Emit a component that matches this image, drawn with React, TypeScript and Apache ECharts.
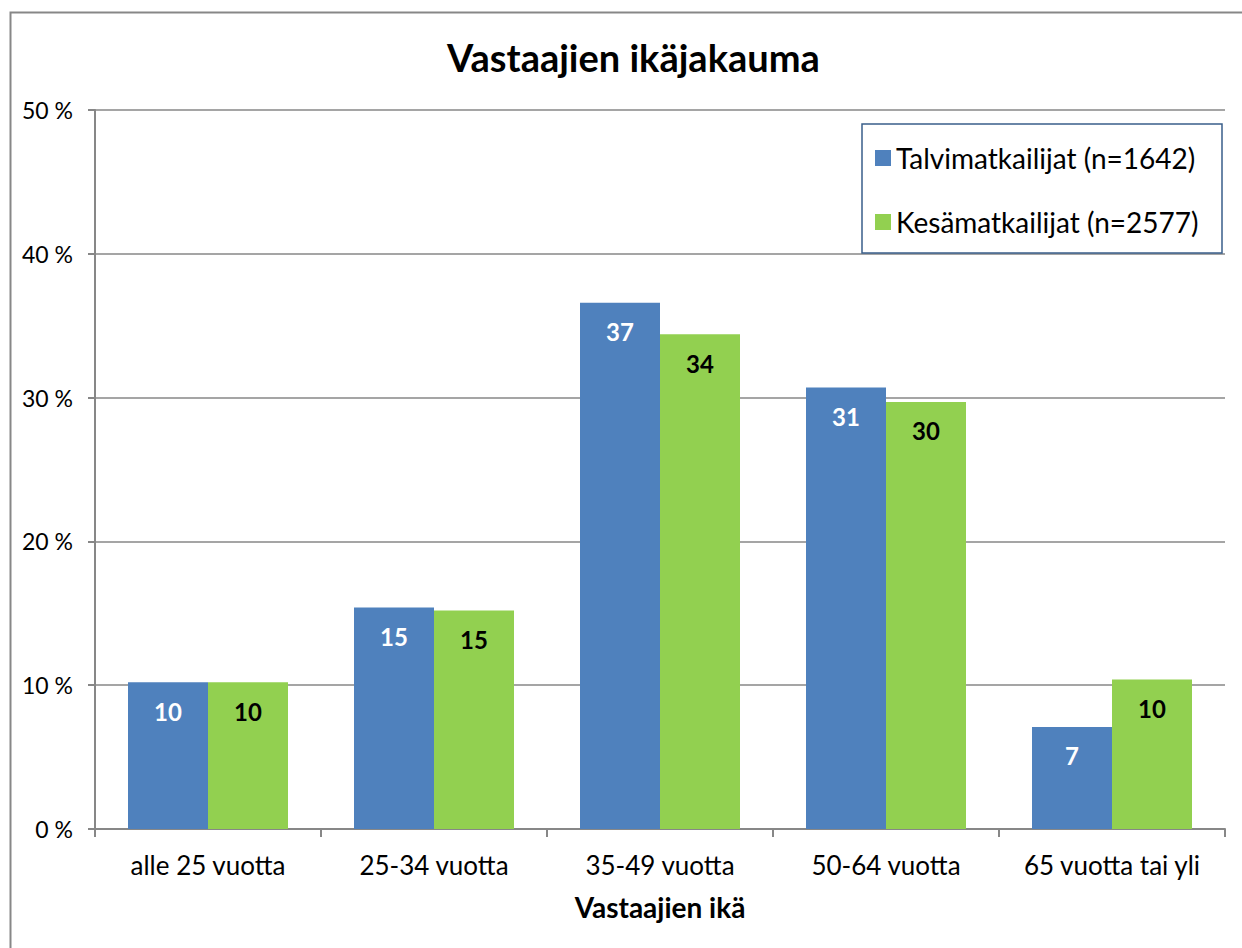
import React, { useEffect, useRef } from "react";
import * as echarts from "echarts";

const categories = ["alle 25 vuotta", "25-34 vuotta", "35-49 vuotta", "50-64 vuotta", "65 vuotta tai yli"];
const talviValues = [10.2, 15.4, 36.6, 30.7, 7.1];
const kesaValues = [10.2, 15.2, 34.4, 29.7, 10.4];
const seriesNames = ["Talvimatkailijat (n=1642)", "Kesämatkailijat (n=2577)"];
const yTicks = { min: 0, max: 50, interval: 10 };

const FONT = "Lato, 'Open Sans', sans-serif";

export default function App() {
  const ref = useRef<HTMLDivElement>(null);
  useEffect(() => {
    document.body.style.margin = "0";
    const chart = echarts.init(ref.current!, null, { renderer: "svg" });
    const labelBase = {
      show: true,
      position: "insideTop",
      distance: 17,
      fontSize: 24,
      fontWeight: "bold",
      fontFamily: FONT,
      formatter: (p: any) => String(Math.round(p.value)),
    };
    chart.setOption({
      animation: false,
      backgroundColor: "#ffffff",
      textStyle: { fontFamily: FONT, color: "#000" },
      title: {
        text: "Vastaajien ikäjakauma",
        left: 442,
        top: 33,
        textStyle: { fontSize: 38, fontWeight: "bold", color: "#000", fontFamily: FONT },
      },
      grid: { left: 95, top: 110, right: 17, bottom: 119, containLabel: false },
      legend: {
        orient: "vertical",
        left: 875,
        top: 144,
        padding: 0,
        itemWidth: 16,
        itemHeight: 16,
        itemGap: 36,
        icon: "rect",
        textStyle: { fontSize: 28, lineHeight: 28, color: "#000", fontFamily: FONT },
        data: seriesNames,
        z: 10,
      },
      graphic: [
        {
          type: "rect",
          left: 8,
          top: 10,
          shape: { x: 0, y: 0, width: 1300, height: 1000 },
          style: { fill: "none", stroke: "#878787", lineWidth: 2 },
          silent: true,
          z: -1,
        },
        {
          type: "rect",
          shape: { x: 862, y: 124, width: 360, height: 129 },
          style: { fill: "#fff", stroke: "#3A5F8B", lineWidth: 1.5 },
          z: 5,
          silent: true,
        },
      ],
      xAxis: {
        type: "category",
        data: categories,
        name: "Vastaajien ikä",
        nameLocation: "middle",
        nameGap: 64,
        nameTextStyle: { fontSize: 28, fontWeight: "bold", color: "#000", fontFamily: FONT },
        axisLine: { lineStyle: { color: "#878787", width: 2 } },
        axisTick: { show: true, length: 8, lineStyle: { color: "#878787", width: 2 } },
        axisLabel: { fontSize: 26, color: "#000", margin: 23, fontFamily: FONT, interval: 0 },
      },
      yAxis: {
        type: "value",
        min: yTicks.min,
        max: yTicks.max,
        interval: yTicks.interval,
        axisLine: { show: true, lineStyle: { color: "#878787", width: 2 } },
        axisTick: { show: true, length: 7, lineStyle: { color: "#878787", width: 2 } },
        axisLabel: { fontSize: 23, color: "#000", margin: 22, formatter: "{value} %", fontFamily: FONT },
        splitLine: { show: true, lineStyle: { color: "#878787", width: 1.5 } },
      },
      series: [
        {
          name: seriesNames[0],
          type: "bar",
          data: talviValues,
          barWidth: 80,
          barGap: "0%",
          itemStyle: { color: "#4F81BD" },
          label: { ...labelBase, color: "#fff" },
        },
        {
          name: seriesNames[1],
          type: "bar",
          data: kesaValues,
          barWidth: 80,
          barGap: "0%",
          itemStyle: { color: "#92D050" },
          label: { ...labelBase, color: "#000" },
        },
      ],
    });
    return () => chart.dispose();
  }, []);
  return <div ref={ref} style={{ width: 1242, height: 948 }} />;
}
